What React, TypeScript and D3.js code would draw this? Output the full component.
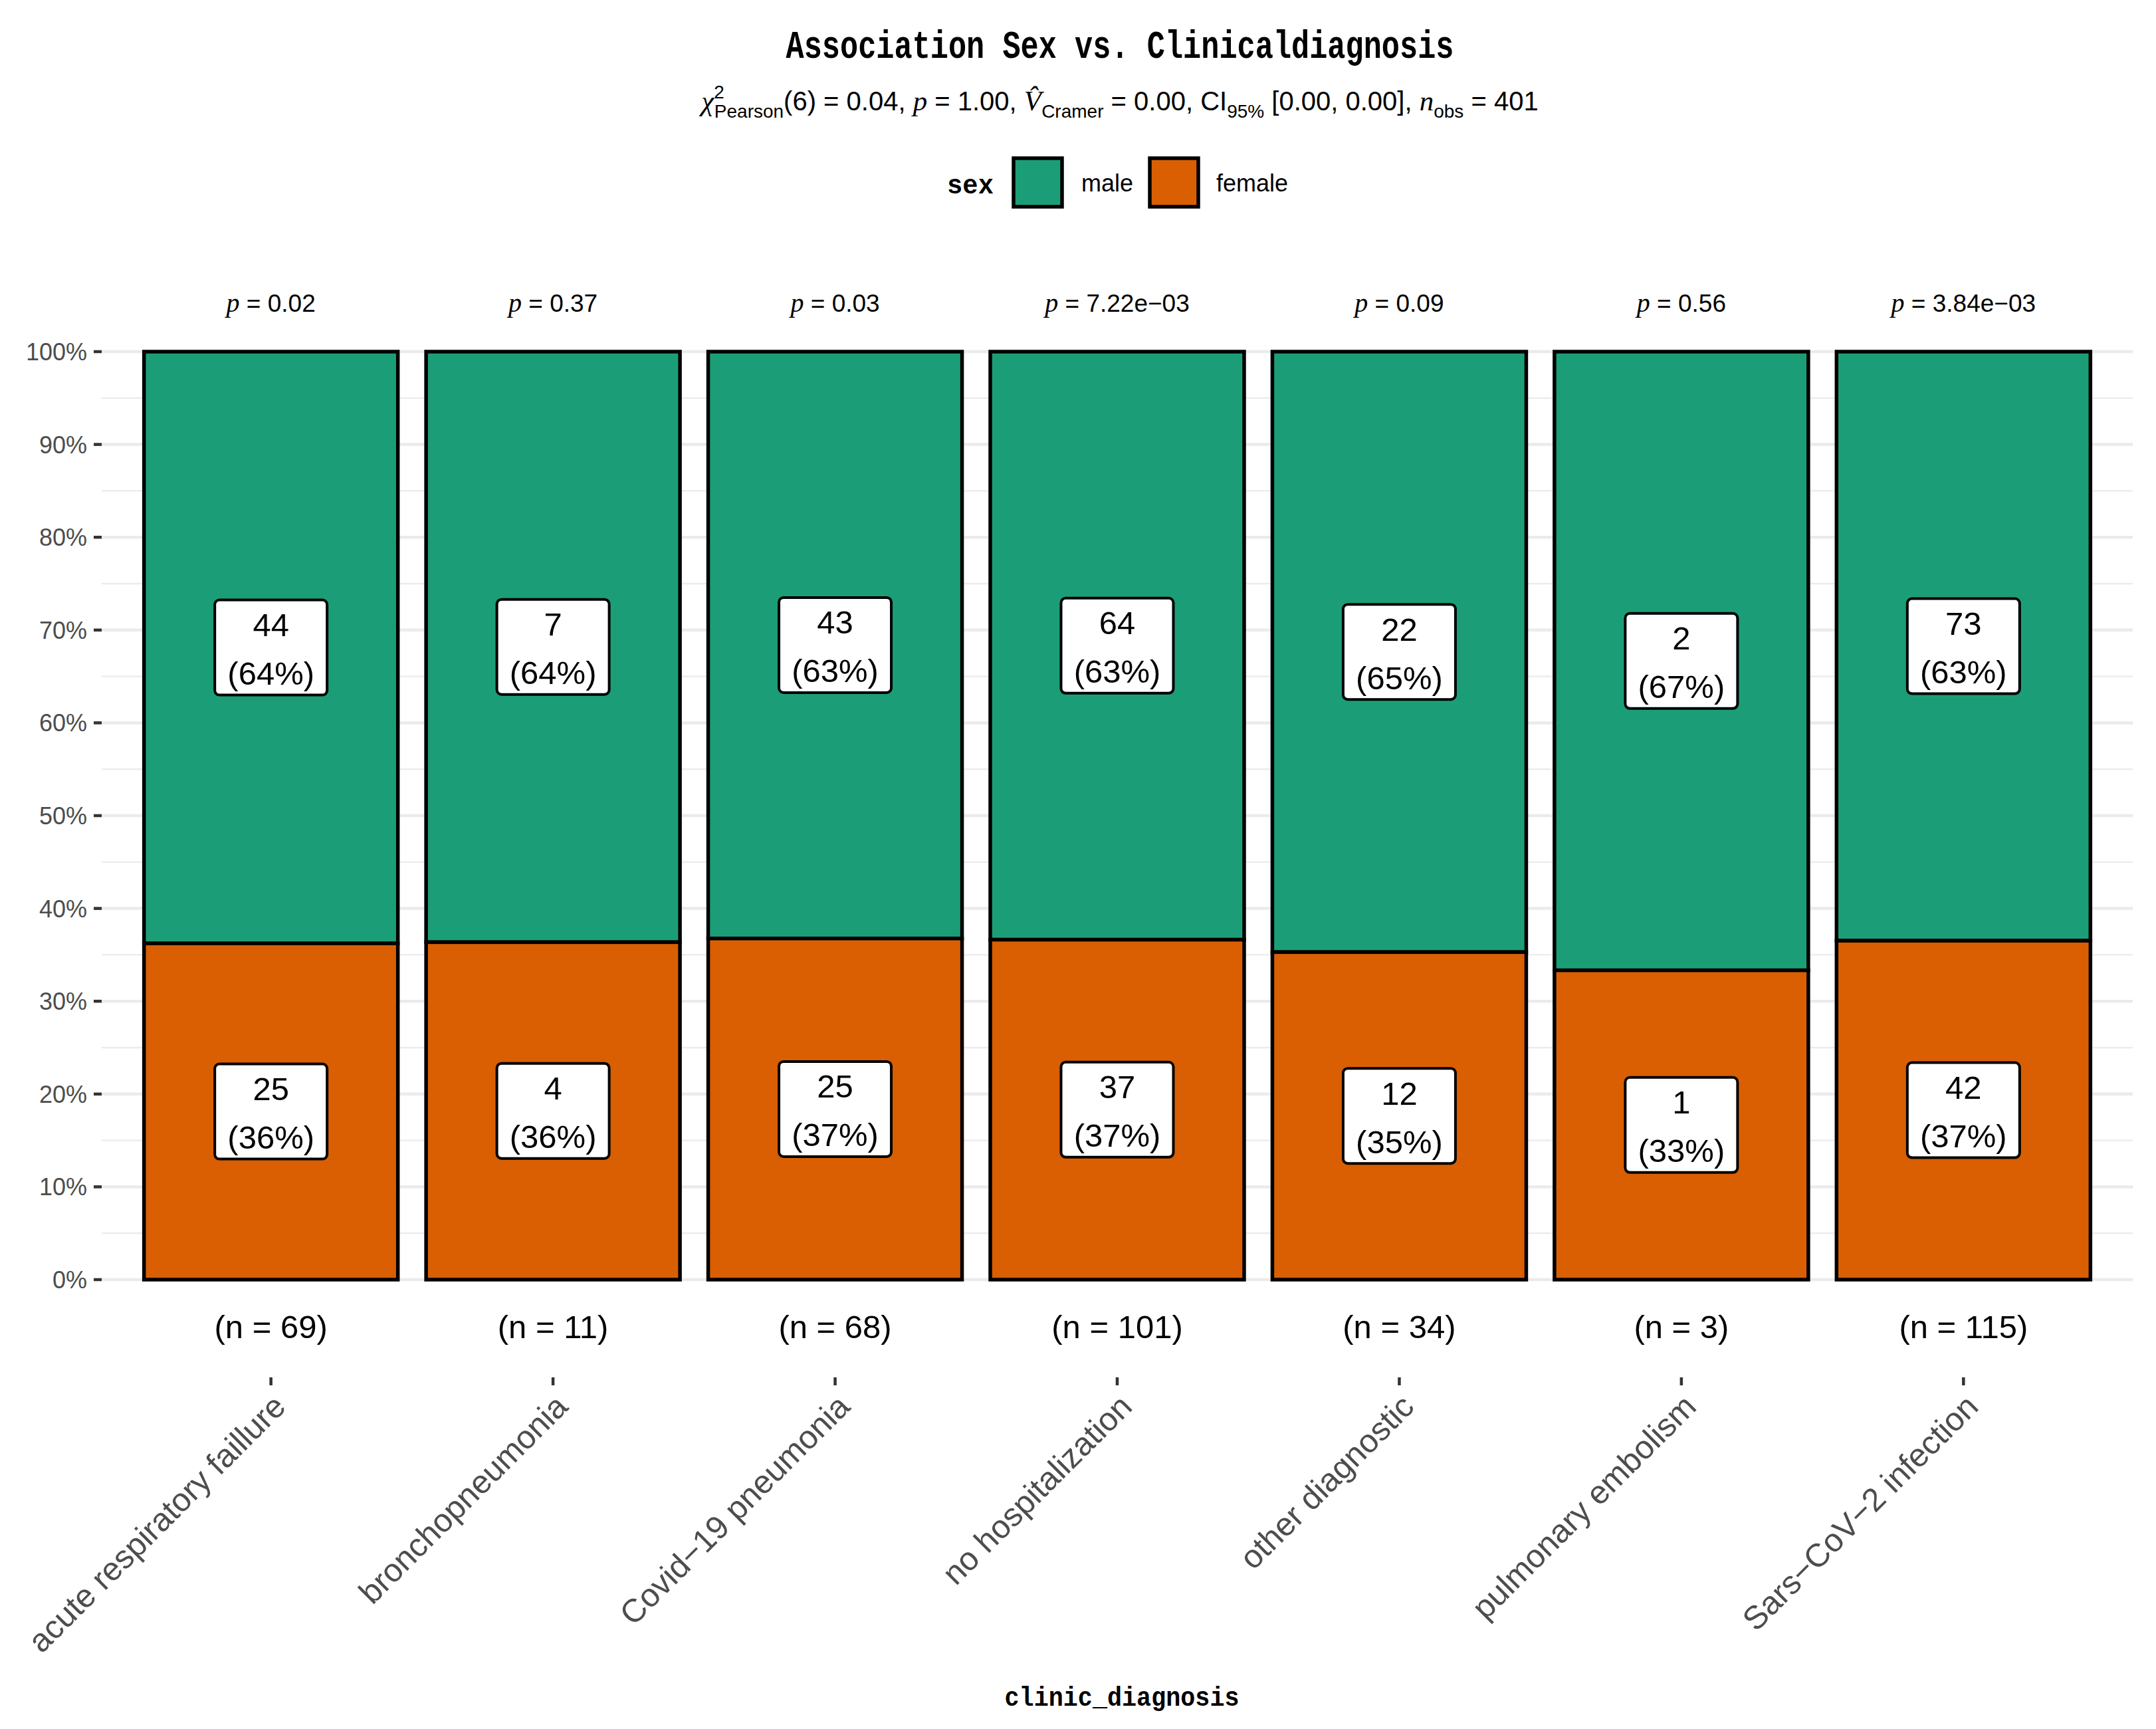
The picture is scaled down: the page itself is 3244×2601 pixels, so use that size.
import * as d3 from "d3";

const categories = [
  "acute respiratory faillure",
  "bronchopneumonia",
  "Covid−19 pneumonia",
  "no hospitalization",
  "other diagnostic",
  "pulmonary embolism",
  "Sars−CoV−2 infection",
];
const maleCounts = [44, 7, 43, 64, 22, 2, 73];
const femaleCounts = [25, 4, 25, 37, 12, 1, 42];
const pLabels = ["0.02", "0.37", "0.03", "7.22e−03", "0.09", "0.56", "3.84e−03"];
const majorTicks = [0, 0.1, 0.2, 0.3, 0.4, 0.5, 0.6, 0.7, 0.8, 0.9, 1];
const minorTicks = [0.05, 0.15, 0.25, 0.35, 0.45, 0.55, 0.65, 0.75, 0.85, 0.95];
const sexLevels = ["male", "female"];
const sexColors = ["#1B9E77", "#D95F02"];

const W = 3244;
const H = 2601;
const SANS = "'Liberation Sans', Arial, sans-serif";
const SERIF = "'Liberation Serif', 'DejaVu Serif', serif";
const MONO = "'Liberation Mono', 'DejaVu Sans Mono', monospace";

export default function App() {
  const x = d3
    .scaleBand<string>()
    .domain(categories)
    .range([153, 3209])
    .paddingInner(0.1)
    .paddingOuter(0.15);
  const y = d3.scaleLinear().domain([0, 1]).range([1925, 529]);
  const pct = d3.format(".0%");

  const rows = categories.map((c, i) => {
    const n = maleCounts[i] + femaleCounts[i];
    const f = femaleCounts[i] / n;
    return { c, n, m: maleCounts[i], fe: femaleCounts[i], f, cx: (x(c) ?? 0) + x.bandwidth() / 2 };
  });

  const boxW = 169;
  const boxH = 143;

  const label = (key: string, cx: number, cy: number, count: number, share: number) => (
    <g key={key}>
      <rect
        x={cx - boxW / 2}
        y={cy - boxH / 2}
        width={boxW}
        height={boxH}
        rx={7}
        fill="#FFFFFF"
        stroke="#000000"
        strokeWidth={4}
      />
      <text x={cx} y={cy - 17} textAnchor="middle" fontFamily={SANS} fontSize={49}>
        {count}
      </text>
      <text x={cx} y={cy + 56} textAnchor="middle" fontFamily={SANS} fontSize={49}>
        ({Math.round(share * 100)}%)
      </text>
    </g>
  );

  return (
    <svg width={W} height={H} style={{ display: "block", position: "absolute", left: 0, top: 0 }}>
      <rect width={W} height={H} fill="#FFFFFF" />

      {/* title + subtitle */}
      <text
        x={1685}
        y={87}
        textAnchor="middle"
        fontFamily={MONO}
        fontWeight="bold"
        fontSize={60}
        textLength={1005}
        lengthAdjust="spacingAndGlyphs"
      >
        Association Sex vs. Clinicaldiagnosis
      </text>
      <text x={1685} y={166} textAnchor="middle" fontFamily={SANS} fontSize={40}>
        <tspan fontFamily={SERIF} fontStyle="italic" fontSize={43}>χ</tspan>
        <tspan fontSize={28} dy={-18}>2</tspan>
        <tspan fontSize={28} dx={-15} dy={29}>Pearson</tspan>
        <tspan dy={-11}>(6) = 0.04, </tspan>
        <tspan fontFamily={SERIF} fontStyle="italic" fontSize={43}>p</tspan>
        <tspan> = 1.00, </tspan>
        <tspan fontFamily={SERIF} fontStyle="italic" fontSize={43}>{"V\u0302"}</tspan>
        <tspan fontSize={28} dy={11}>Cramer</tspan>
        <tspan dy={-11}> = 0.00, CI</tspan>
        <tspan fontSize={28} dy={11}>95%</tspan>
        <tspan dy={-11}> [0.00, 0.00], </tspan>
        <tspan fontFamily={SERIF} fontStyle="italic" fontSize={43}>n</tspan>
        <tspan fontSize={28} dy={11}>obs</tspan>
        <tspan dy={-11}> = 401</tspan>
      </text>

      {/* legend */}
      <g>
        <text
          x={1425}
          y={291}
          fontFamily={MONO}
          fontWeight="bold"
          fontSize={40}
          textLength={70}
          lengthAdjust="spacingAndGlyphs"
        >
          sex
        </text>
        {sexLevels.map((s, i) => {
          const kx = [1525, 1730][i];
          const tx = [1627, 1830][i];
          return (
            <g key={s}>
              <rect x={kx} y={238} width={73} height={73} fill={sexColors[i]} stroke="#000000" strokeWidth={5.5} />
              <text x={tx} y={288} fontFamily={SANS} fontSize={36}>
                {s}
              </text>
            </g>
          );
        })}
      </g>

      {/* grid */}
      {minorTicks.map((t) => (
        <line key={`mi${t}`} x1={153} x2={3209} y1={y(t)} y2={y(t)} stroke="#EBEBEB" strokeWidth={2.3} />
      ))}
      {majorTicks.map((t) => (
        <line key={`ma${t}`} x1={153} x2={3209} y1={y(t)} y2={y(t)} stroke="#EBEBEB" strokeWidth={4.5} />
      ))}

      {/* y axis */}
      {majorTicks.map((t) => (
        <g key={`yt${t}`}>
          <line x1={141} x2={153} y1={y(t)} y2={y(t)} stroke="#333333" strokeWidth={4.5} />
          <text
            x={131}
            y={y(t)}
            dy="0.36em"
            textAnchor="end"
            fontFamily={SANS}
            fontSize={36}
            fill="#4D4D4D"
          >
            {pct(t)}
          </text>
        </g>
      ))}

      {/* bars */}
      {rows.map((r) => (
        <g key={`bar-${r.c}`}>
          <rect
            x={x(r.c)}
            y={y(1)}
            width={x.bandwidth()}
            height={y(r.f) - y(1)}
            fill={sexColors[0]}
            stroke="#000000"
            strokeWidth={5.5}
          />
          <rect
            x={x(r.c)}
            y={y(r.f)}
            width={x.bandwidth()}
            height={y(0) - y(r.f)}
            fill={sexColors[1]}
            stroke="#000000"
            strokeWidth={5.5}
          />
        </g>
      ))}

      {/* segment labels */}
      {rows.map((r) => label(`m-${r.c}`, r.cx, y((r.f + 1) / 2), r.m, r.m / r.n))}
      {rows.map((r) => label(`f-${r.c}`, r.cx, y(r.f / 2), r.fe, r.fe / r.n))}

      {/* p-values on top */}
      {rows.map((r, i) => (
        <text key={`p-${r.c}`} x={r.cx} y={469} textAnchor="middle" fontFamily={SANS} fontSize={37}>
          <tspan fontFamily={SERIF} fontStyle="italic" fontSize={40}>p</tspan>
          <tspan> = {pLabels[i]}</tspan>
        </text>
      ))}

      {/* sample sizes */}
      {rows.map((r) => (
        <text key={`n-${r.c}`} x={r.cx} y={2013} textAnchor="middle" fontFamily={SANS} fontSize={49}>
          (n = {r.n})
        </text>
      ))}

      {/* x axis */}
      {rows.map((r) => (
        <g key={`xt-${r.c}`}>
          <line x1={r.cx} x2={r.cx} y1={2072} y2={2084} stroke="#333333" strokeWidth={4.5} />
          <text
            transform={`translate(${r.cx},${2094}) rotate(-45)`}
            dy="0.72em"
            textAnchor="end"
            fontFamily={SANS}
            fontSize={49}
            fill="#4D4D4D"
          >
            {r.c}
          </text>
        </g>
      ))}
      <text
        x={1688}
        y={2566}
        textAnchor="middle"
        fontFamily={MONO}
        fontWeight="bold"
        fontSize={40}
        textLength={353}
        lengthAdjust="spacingAndGlyphs"
      >
        clinic_diagnosis
      </text>
    </svg>
  );
}
